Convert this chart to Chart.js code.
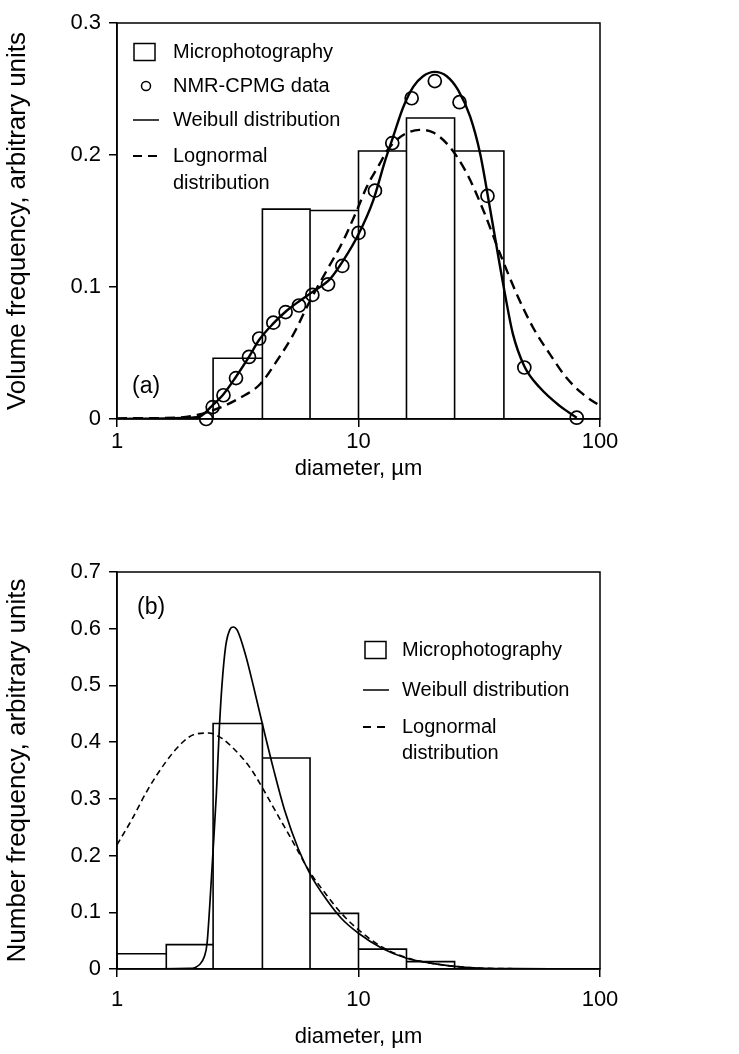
<!DOCTYPE html>
<html>
<head>
<meta charset="utf-8">
<script src="https://cdn.jsdelivr.net/npm/chart.js@4.4.1/dist/chart.umd.min.js"></script>
<style>
  body { margin: 0; background: #fff; }
  #wrap { position: relative; width: 739px; height: 1054px; }
  canvas { position: absolute; left: 0; }
</style>
</head>
<body>
<div id="wrap">
  <canvas id="chartA" width="739" height="490" style="top:0"></canvas>
  <canvas id="chartB" width="739" height="564" style="top:490px"></canvas>
</div>
<script>
// ---- panel (a) : volume frequency ----
const binEdgesA = [2.5, 4, 6.3, 10, 15.8, 25, 40];
const microA = [0.046, 0.159, 0.158, 0.203, 0.228, 0.203];

const nmrX = [2.34, 2.49, 2.76, 3.11, 3.52, 3.88, 4.44, 4.99, 5.67, 6.44, 7.48, 8.57, 10.0, 11.7, 13.8, 16.6, 20.7, 26.2, 34.2, 48.6, 80.1];
const nmrY = [0.000, 0.009, 0.018, 0.031, 0.047, 0.061, 0.073, 0.081, 0.086, 0.094, 0.102, 0.116, 0.141, 0.173, 0.209, 0.243, 0.256, 0.240, 0.169, 0.039, 0.001];

const weibAx = [1, 2.0, 2.21, 2.43, 2.76, 3.11, 3.52, 3.88, 4.44, 5.04, 5.72, 6.5, 7.62, 8.64, 10.0, 11.5, 12.9, 13.9, 15.3, 16.85, 18.5, 20.7, 23.2, 25.9, 29.0, 31.9, 35.0, 38.6, 40.4, 43.6, 48.6, 56.3, 68.1, 80.1];
const weibAy = [0, 0.001, 0.002, 0.0086, 0.0188, 0.032, 0.047, 0.060, 0.0724, 0.082, 0.0896, 0.0967, 0.106, 0.120, 0.140, 0.1655, 0.196, 0.2136, 0.236, 0.2516, 0.2597, 0.263, 0.2597, 0.249, 0.229, 0.201, 0.160, 0.115, 0.0947, 0.0643, 0.040, 0.0238, 0.0099, 0.001];

const lognAx = [1, 1.77, 2.21, 2.67, 3.23, 3.91, 4.59, 5.37, 6.3, 7.38, 8.64, 9.84, 10.8, 12.3, 13.1, 14.5, 16.0, 17.9, 20.4, 23.9, 28.1, 32.9, 38.6, 45.2, 52.8, 62.1, 72.8, 85.1, 100];
const lognAy = [0.0005, 0.001, 0.0036, 0.0086, 0.016, 0.0263, 0.044, 0.064, 0.0896, 0.1124, 0.135, 0.158, 0.1756, 0.194, 0.203, 0.212, 0.217, 0.219, 0.217, 0.206, 0.186, 0.158, 0.125, 0.0947, 0.0693, 0.049, 0.031, 0.0188, 0.0099];

// ---- panel (b) : number frequency ----
const binEdgesB = [1, 1.6, 2.5, 4, 6.3, 10, 15.8, 25];
const microB = [0.027, 0.043, 0.433, 0.372, 0.098, 0.035, 0.013];

const weibBx = [1, 2.0, 2.2, 2.3, 2.36, 2.42, 2.5, 2.58, 2.65, 2.72, 2.82, 2.93, 3.03, 3.15, 3.4, 3.68, 4.0, 4.45, 4.96, 5.63, 6.33, 7.27, 8.5, 10.0, 12.5, 15.8, 20.1, 27.7, 44.6, 100];
const weibBy = [0, 0.001, 0.008, 0.022, 0.045, 0.11, 0.21, 0.31, 0.42, 0.50, 0.57, 0.598, 0.603, 0.597, 0.555, 0.497, 0.432, 0.352, 0.278, 0.212, 0.166, 0.126, 0.089, 0.063, 0.0365, 0.019, 0.010, 0.003, 0.0005, 0];

const lognBx = [1, 1.15, 1.34, 1.58, 1.85, 2.10, 2.39, 2.71, 3.18, 3.61, 3.97, 4.51, 5.29, 6.33, 7.27, 8.5, 10.0, 12.5, 15.8, 20.1, 27.7, 40, 100];
const lognBy = [0.219, 0.263, 0.316, 0.363, 0.398, 0.414, 0.416, 0.407, 0.380, 0.351, 0.322, 0.280, 0.228, 0.169, 0.134, 0.098, 0.069, 0.039, 0.020, 0.010, 0.003, 0.0007, 0];

const xTickValues = [1, 10, 100];

const FONT = "'Liberation Sans', Arial, Helvetica, sans-serif";

// outline of histogram bars as a polyline
function histOutline(edges, heights) {
    const pts = [];
    heights.forEach((h, i) => {
        pts.push({x: edges[i], y: 0}, {x: edges[i], y: h}, {x: edges[i + 1], y: h}, {x: edges[i + 1], y: 0});
    });
    return pts;
}

function zip(xs, ys) {
    return xs.map((x, i) => ({x: x, y: ys[i]}));
}

// frame around the plot + in-plot legend
const framePlugin = {
    id: 'frameLegend',
    afterDatasetsDraw(chart, args, opts) {
        const ctx = chart.ctx;
        const a = chart.chartArea;
        ctx.save();
        ctx.strokeStyle = '#000';
        ctx.lineWidth = 1.5;
        ctx.strokeRect(a.left, a.top, a.right - a.left, a.bottom - a.top);

        ctx.fillStyle = '#000';
        ctx.font = '20px ' + FONT;
        ctx.textBaseline = 'middle';
        ctx.textAlign = 'left';
        opts.items.forEach(it => {
            ctx.beginPath();
            ctx.setLineDash([]);
            if (it.symbol === 'box') {
                ctx.lineWidth = 1.5;
                ctx.strokeRect(it.sx - 10.5, it.y - 8.5, 21, 17);
            } else if (it.symbol === 'circle') {
                ctx.lineWidth = 1.5;
                ctx.arc(it.sx, it.y, 4.5, 0, Math.PI * 2);
                ctx.stroke();
            } else {
                ctx.lineWidth = it.width || 1.5;
                if (it.symbol === 'dash') ctx.setLineDash(it.dash);
                ctx.moveTo(it.sx - 13, it.y);
                ctx.lineTo(it.sx + 13, it.y);
                ctx.stroke();
            }
            it.text.forEach((t, k) => ctx.fillText(t, opts.textX, it.y + k * opts.lineGap));
        });
        ctx.font = opts.tagFont;
        ctx.fillText(opts.tag.text, opts.tag.x, opts.tag.y);
        ctx.restore();
    }
};

function makeChart(id, cfg) {
    const xAxis = {
        type: 'logarithmic',
        min: 1,
        max: 100,
        afterBuildTicks: (scale) => { scale.ticks = xTickValues.map(v => ({value: v})); },
        afterFit: (scale) => { scale.height = cfg.xHeight; },
        ticks: {
            color: '#000',
            font: {family: FONT, size: 22},
            padding: cfg.xTickPad,
            maxRotation: 0,
            autoSkip: false,
            callback: (v) => String(v)
        },
        grid: {display: true, drawOnChartArea: false, drawTicks: true, tickLength: 8, color: '#000', lineWidth: 1.5},
        border: {display: true, color: '#000', width: 1.5},
        title: {display: true, text: 'diameter, \u00b5m', color: '#000', font: {family: FONT, size: 22}, padding: {top: 0, bottom: cfg.xTitlePad}}
    };
    const yAxis = {
        type: 'linear',
        min: 0,
        max: cfg.yMax,
        afterFit: (scale) => { scale.width = 117; },
        ticks: {
            stepSize: 0.1,
            color: '#000',
            font: {family: FONT, size: 22},
            padding: 8,
            callback: (v) => v === 0 ? '0' : v.toFixed(1)
        },
        grid: {display: true, drawOnChartArea: false, drawTicks: true, tickLength: 8, color: '#000', lineWidth: 1.5},
        border: {display: true, color: '#000', width: 1.5},
        title: {display: true, text: cfg.yTitle, color: '#000', font: {family: FONT, size: 26}, padding: {top: 2, bottom: 0}}
    };

    return new Chart(document.getElementById(id).getContext('2d'), {
        type: 'scatter',
        data: {datasets: cfg.datasets},
        options: {
            responsive: false,
            animation: false,
            layout: {padding: {top: cfg.padTop, right: 139, bottom: 0, left: 0}},
            scales: {x: xAxis, y: yAxis},
            plugins: {
                legend: {display: false},
                tooltip: {enabled: false},
                frameLegend: cfg.legend
            }
        },
        plugins: [framePlugin]
    });
}

const lineStyle = {type: 'line', showLine: true, pointRadius: 0, borderColor: '#000', fill: false};

makeChart('chartA', {
    yMax: 0.3,
    yTitle: 'Volume frequency, arbitrary units',
    padTop: 23,
    xHeight: 71,
    xTickPad: 2,
    xTitlePad: 8,
    datasets: [
        Object.assign({}, lineStyle, {label: 'Microphotography', data: histOutline(binEdgesA, microA), borderWidth: 1.6, tension: 0}),
        Object.assign({}, lineStyle, {label: 'Lognormal distribution', data: zip(lognAx, lognAy), borderWidth: 2.4, borderDash: [10, 6], cubicInterpolationMode: 'monotone'}),
        Object.assign({}, lineStyle, {label: 'Weibull distribution', data: zip(weibAx, weibAy), borderWidth: 2.4, cubicInterpolationMode: 'monotone'}),
        {type: 'scatter', label: 'NMR-CPMG data', data: zip(nmrX, nmrY), pointStyle: 'circle', pointRadius: 6.5, borderWidth: 1.7,
         borderColor: '#000', backgroundColor: 'rgba(0,0,0,0)', clip: false}
    ],
    legend: {
        tagFont: '23px ' + FONT,
        textX: 173,
        lineGap: 27,
        items: [
            {symbol: 'box', sx: 144.5, y: 52, text: ['Microphotography']},
            {symbol: 'circle', sx: 146, y: 86, text: ['NMR-CPMG data']},
            {symbol: 'line', sx: 146, y: 120, width: 1.5, text: ['Weibull distribution']},
            {symbol: 'dash', sx: 146, y: 156, width: 2, dash: [9, 6], text: ['Lognormal', 'distribution']}
        ],
        tag: {text: '(a)', x: 132, y: 387}
    }
});

makeChart('chartB', {
    yMax: 0.7,
    yTitle: 'Number frequency, arbitrary units',
    padTop: 82,
    xHeight: 85,
    xTickPad: 10,
    xTitlePad: 4,
    datasets: [
        Object.assign({}, lineStyle, {label: 'Microphotography', data: histOutline(binEdgesB, microB), borderWidth: 1.6, tension: 0}),
        Object.assign({}, lineStyle, {label: 'Lognormal distribution', data: zip(lognBx, lognBy), borderWidth: 1.6, borderDash: [6, 4], cubicInterpolationMode: 'monotone'}),
        Object.assign({}, lineStyle, {label: 'Weibull distribution', data: zip(weibBx, weibBy), borderWidth: 1.7, cubicInterpolationMode: 'monotone'})
    ],
    legend: {
        tagFont: '23px ' + FONT,
        textX: 402,
        lineGap: 26,
        items: [
            {symbol: 'box', sx: 375.5, y: 160, text: ['Microphotography']},
            {symbol: 'line', sx: 376, y: 200, width: 1.5, text: ['Weibull distribution']},
            {symbol: 'dash', sx: 376, y: 237, width: 2, dash: [8, 6], text: ['Lognormal', 'distribution']}
        ],
        tag: {text: '(b)', x: 137, y: 118}
    }
});
</script>
</body>
</html>
